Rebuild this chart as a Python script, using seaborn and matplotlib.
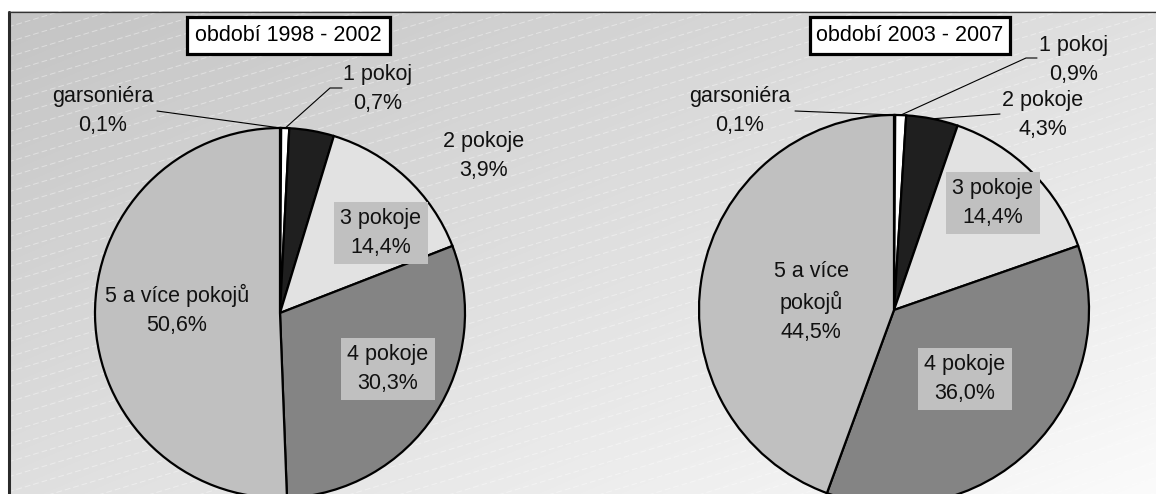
import matplotlib
matplotlib.use("Agg")
import matplotlib.pyplot as plt
import numpy as np
import seaborn as sns
from matplotlib.patches import Rectangle

# data
categories = ["garsoniéra", "1 pokoj", "2 pokoje", "3 pokoje", "4 pokoje", "5 a více pokojů"]
share_1998_2002 = [0.1, 0.7, 3.9, 14.4, 30.3, 50.6]
share_2003_2007 = [0.1, 0.9, 4.3, 14.4, 36.0, 44.5]
periods = ["období 1998 - 2002", "období 2003 - 2007"]

W, H = 1156, 494
WEDGE_COLORS = ["#303030", "#ffffff", "#1f1f1f", "#e2e2e2", "#848484", "#c0c0c0"]
BOXED = {"3 pokoje", "4 pokoje"}

# layout in pixels from top-left: pie centre/radius, title box, label centres, leader starts
LAYOUT = [
    dict(center=(280, 313), radius=185, title=(187, 17, 390, 54),
         labels=[(103, 111), (378, 89), (484, 156), (381, 233), (388, 369), (177, 310)],
         leaders={0: [(157, 111)], 1: [(342, 88), (330, 88)]},
         wrap=False),
    dict(center=(894, 310), radius=195, title=(810, 17, 1010, 54),
         labels=[(740, 111), (1074, 60), (1043, 115), (993, 203), (965, 379), (811, 302)],
         leaders={0: [(795, 111)], 1: [(1037, 58), (1026, 58)], 2: [(1000, 114)]},
         wrap=True),
]


def px(x, y):
    return x, H - y


def draw_background(ax):
    yy, xx = np.mgrid[0:H, 0:W]
    shade = 195 + 28 * xx / W + 28 * yy / H
    shade = np.clip(shade, 0, 250) / 255.0
    img = np.dstack([shade, shade, shade])
    img[:12, :, :] = 1.0
    img[:, :8, :] = 1.0
    ax.imshow(img, extent=(0, W, 0, H), origin="upper", zorder=0, interpolation="nearest")
    # faint diagonal stripes
    for y0 in np.arange(12, H + 0.3 * W + 20, 15):
        xs = np.array([8, W])
        ys = y0 - 0.3 * (xs - 8)
        ax.plot(xs, H - ys, color="white", alpha=0.4, lw=0.7, ls=(0, (6, 3)), zorder=1)
    ax.plot([8.5, 8.5], [0, H - 12], color="#2a2a2a", lw=2.2, zorder=2)
    ax.plot([8, W], [H - 12.5, H - 12.5], color="#333333", lw=0.9, zorder=2)


def label_text(name, value, wrap):
    if wrap and name == "5 a více pokojů":
        name = "5 a více\npokojů"
    return f"{name}\n{value:.1f}%".replace(".", ",")


def draw_chart(ax, values, period, lay):
    cx, cy = px(*lay["center"])
    r = lay["radius"]
    wedges, _ = ax.pie(values, colors=WEDGE_COLORS, startangle=90, counterclock=False,
                       center=(cx, cy), radius=r, frame=True,
                       wedgeprops=dict(edgecolor="black", linewidth=1.6))
    for w in wedges:
        w.set_zorder(3)

    for i, (name, val) in enumerate(zip(categories, values)):
        lx, ly = px(*lay["labels"][i])
        bbox = None
        if name in BOXED:
            bbox = dict(boxstyle="square,pad=0.3", fc="#c0c0c0", ec="none")
        ax.text(lx, ly, label_text(name, val, lay["wrap"]), ha="center", va="center",
                fontsize=15.5, color="#111111", linespacing=1.5, bbox=bbox, zorder=5)

    for i, pts in lay["leaders"].items():
        w = wedges[i]
        mid = np.deg2rad((w.theta1 + w.theta2) / 2)
        end = (cx + r * np.cos(mid), cy + r * np.sin(mid))
        xs = [px(*p)[0] for p in pts] + [end[0]]
        ys = [px(*p)[1] for p in pts] + [end[1]]
        ax.plot(xs, ys, color="black", lw=0.8, zorder=4)

    x0, y0, x1, y1 = lay["title"]
    ax.add_patch(Rectangle((x0, H - y1), x1 - x0, y1 - y0, fc="white", ec="black",
                           lw=2.3, zorder=5))
    ax.text((x0 + x1) / 2, H - (y0 + y1) / 2, period, ha="center", va="center",
            fontsize=15.5, color="black", zorder=6)


if __name__ == "__main__":
    sns.set_theme(style="white")
    plt.rcParams["font.family"] = ["Liberation Sans", "DejaVu Sans"]

    fig = plt.figure(figsize=(W / 100, H / 100), dpi=100)
    ax = fig.add_axes([0, 0, 1, 1])
    draw_background(ax)
    for values, period, lay in zip([share_1998_2002, share_2003_2007], periods, LAYOUT):
        draw_chart(ax, values, period, lay)

    ax.set_xlim(0, W)
    ax.set_ylim(0, H)
    ax.set_aspect("auto")
    ax.set_position([0, 0, 1, 1])
    ax.axis("off")
    fig.savefig("out.png", dpi=100)
